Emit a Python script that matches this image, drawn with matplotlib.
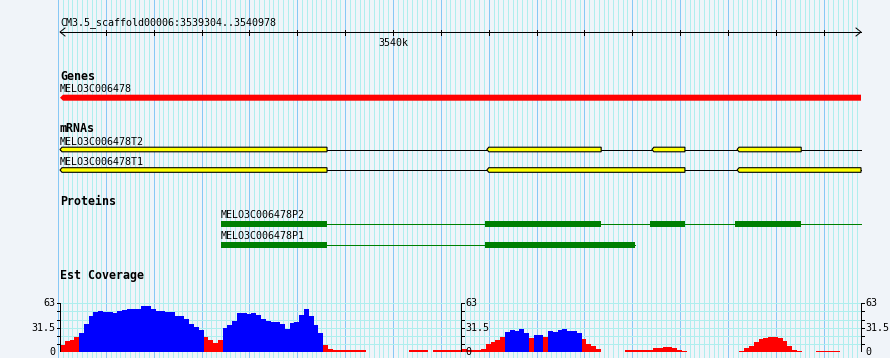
import matplotlib
matplotlib.use("Agg")
import matplotlib.pyplot as plt
from matplotlib.patches import Polygon
import numpy as np

# region shown
ref_name = "CM3.5_scaffold00006"
start = 3539304
end = 3540978

gene_name = "MELO3C006478"
gene_span = (3539304, 3540978)

mrna_names = ["MELO3C006478T2", "MELO3C006478T1"]
mrna_spans = [(3539304, 3540978), (3539304, 3540978)]
mrna_exons = [
    [(3539304, 3539862), (3540196, 3540435), (3540541, 3540610), (3540719, 3540853)],
    [(3539304, 3539862), (3540196, 3540610), (3540719, 3540978)],
]

protein_names = ["MELO3C006478P2", "MELO3C006478P1"]
protein_spans = [(3539640, 3540978), (3539640, 3540506)]
protein_cds = [
    [(3539640, 3539862), (3540192, 3540435), (3540537, 3540610), (3540715, 3540853)],
    [(3539640, 3539862), (3540192, 3540506)],
]

# est coverage, 10 bp bins from start
cov_bin = 10
cov_max = 63
cov_pivot = 21.5
cov_vals = [
    9, 14, 16, 20, 25, 36, 47, 52, 53, 52,
    52, 51, 53, 54, 56, 56, 55, 59, 59, 56,
    53, 53, 52, 52, 47, 46, 43, 36, 32, 29,
    20, 15, 12, 15, 31, 35, 40, 51, 51, 49,
    50, 48, 43, 40, 39, 39, 36, 30, 38, 39,
    48, 55, 47, 35, 24, 9, 4, 2.5, 2.5, 2.5,
    2.5, 2.5, 2.5, 2.5, 0, 0, 0, 0, 0, 0,
    0, 0, 0, 2.5, 2.5, 2.5, 2.5, 0, 2, 2,
    2, 3, 2, 2, 3.4, 2.5, 2, 2, 4, 10,
    13, 16, 19, 26, 28, 27, 30, 24, 18, 22,
    22, 20, 27, 26, 28, 30, 27, 27, 25, 17,
    10, 7.5, 4.5, 0, 0, 0, 0, 0, 2.5, 2.5,
    2.5, 2.5, 2.5, 2.5, 5, 5, 6, 7, 5, 3,
    1.5, 0, 0, 0, 0, 0, 0, 0, 0, 0,
    0, 0, 1, 5, 8, 13, 16.5, 18, 19, 19,
    18, 14, 8, 3, 1.5, 0, 0, 0, 1, 1,
    1, 1, 1, 0, 0, 0, 0, 0,
]
cov_ticks = [0, 31.5, 63]

W, H = 890, 358
LEFT, RIGHT = 60, 861
bg = "#F0F4F9"
grid_minor = "#AFEEEE"
grid_major = "#87C8F5"
LW = 0.6  # about one pixel

bp_per_px = (end - start) / (RIGHT - LEFT)
x_lo = start - LEFT * bp_per_px
x_hi = x_lo + W * bp_per_px
px = bp_per_px  # one pixel in bp

mono = "DejaVu Sans Mono"
small = 7.2
bold = 8.4

fig = plt.figure(figsize=(W / 100, H / 100), dpi=100)
fig.patch.set_facecolor(bg)
ax = fig.add_axes([0, 0, 1, 1])
ax.set_xlim(x_lo, x_hi)
ax.set_ylim(H, 0)
ax.axis("off")

# grid
minor = [p for p in range(start - start % 10, end, 10) if p % 100 != 0]
major = [p for p in range(start - start % 100 + 100, end, 100)]
ax.vlines(minor, 0, H, colors=grid_minor, lw=LW, antialiased=False, zorder=0)
ax.vlines(major + [start - start % 10], 0, H, colors=grid_major, lw=LW,
          antialiased=False, zorder=0)

# ruler
ax.text(start, 25, "%s:%d..%d" % (ref_name, start, end), family=mono,
        fontsize=small, va="baseline", ha="left")
ax.plot([start, end], [32, 32], color="black", lw=LW, antialiased=False)
ax.plot([start + 5 * px, start, start + 5 * px], [28, 32, 36], color="black", lw=0.7)
ax.plot([end - 5 * px, end, end - 5 * px], [28, 32, 36], color="black", lw=0.7)
ax.vlines(major, 29.5, 34.5, colors="black", lw=LW, antialiased=False)
for p in major:
    if p % 1000 == 0:
        ax.text(p, 45.7, "%dk" % (p // 1000), family=mono, fontsize=small,
                ha="center", va="baseline")


def section(y, label):
    ax.text(start, y, label, family=mono, fontsize=bold, fontweight="bold",
            va="baseline", ha="left")


def arrow_box(s, e, yc, h, face, edge, tip=3):
    pts = [(s, yc), (s + tip * px, yc - h / 2), (e, yc - h / 2),
           (e, yc + h / 2), (s + tip * px, yc + h / 2)]
    ax.add_patch(Polygon(pts, closed=True, facecolor=face, edgecolor=edge,
                         lw=0.8 if edge != "none" else 0, zorder=3))


# genes
section(79.5, "Genes")
ax.text(gene_span[0], 91.7, gene_name, family=mono, fontsize=small, va="baseline")
arrow_box(gene_span[0], gene_span[1], 97.7, 6, "#FF0000", "none")

# mRNAs
section(131.7, "mRNAs")
for k, (name, span, exons) in enumerate(zip(mrna_names, mrna_spans, mrna_exons)):
    lab_y = 145 + k * 20
    yc = 149.5 + k * 20.5
    ax.text(span[0], lab_y, name, family=mono, fontsize=small, va="baseline")
    ax.plot(span, [yc, yc], color="black", lw=0.72, zorder=2)
    for s, e in exons:
        arrow_box(s, e, yc, 4.6, "#FFFF00", "black", tip=2)

# proteins
section(205, "Proteins")
for k, (name, span, cds) in enumerate(zip(protein_names, protein_spans, protein_cds)):
    lab_y = 218.3 + k * 20.7
    yc = 223.9 + k * 20.7
    ax.text(span[0], lab_y, name, family=mono, fontsize=small, va="baseline")
    ax.plot(span, [yc, yc], color="#008000", lw=0.72, zorder=2)
    for s, e in cds:
        ax.add_patch(Polygon([(s, yc - 2.9), (e, yc - 2.9), (e, yc + 2.9), (s, yc + 2.9)],
                             facecolor="#008000", edgecolor="none", zorder=3))

# est coverage
section(279.3, "Est Coverage")
y_base, y_top = 352, 303.3
cax = fig.add_axes([0, (H - y_base) / H, 1, (y_base - y_top) / H])
cax.set_xlim(x_lo, x_hi)
cax.set_ylim(0, cov_max)
cax.axis("off")
cax.patch.set_visible(False)

levels = np.linspace(0, cov_max, 7)
cax.hlines(levels, start, end, colors=grid_minor, lw=LW, antialiased=False, zorder=0)

vals = np.array(cov_vals, dtype=float)
lefts = start + cov_bin * np.arange(len(vals))
cols = np.where(vals > cov_pivot, "#0000FF", "#FF0000")
cax.bar(lefts, vals, width=cov_bin, align="edge", color=cols, lw=0,
        antialiased=False, zorder=2)

mid = (start + end) / 2
for xa, side in [(start, -1), (mid, 1), (end, 1)]:
    cax.plot([xa, xa], [0, cov_max], color="black", lw=LW, antialiased=False, zorder=4)
    cax.hlines(levels, xa, xa + side * 3 * px, colors="black", lw=LW,
               antialiased=False, zorder=4)
    for t in cov_ticks:
        lab = ("%g" % t)
        cax.annotate(lab, (xa, t), xytext=(side * 3.2, 0), textcoords="offset points",
                     ha="right" if side < 0 else "left", va="center",
                     family=mono, fontsize=small, zorder=5)

fig.savefig("out.png", dpi=100, facecolor=bg)
